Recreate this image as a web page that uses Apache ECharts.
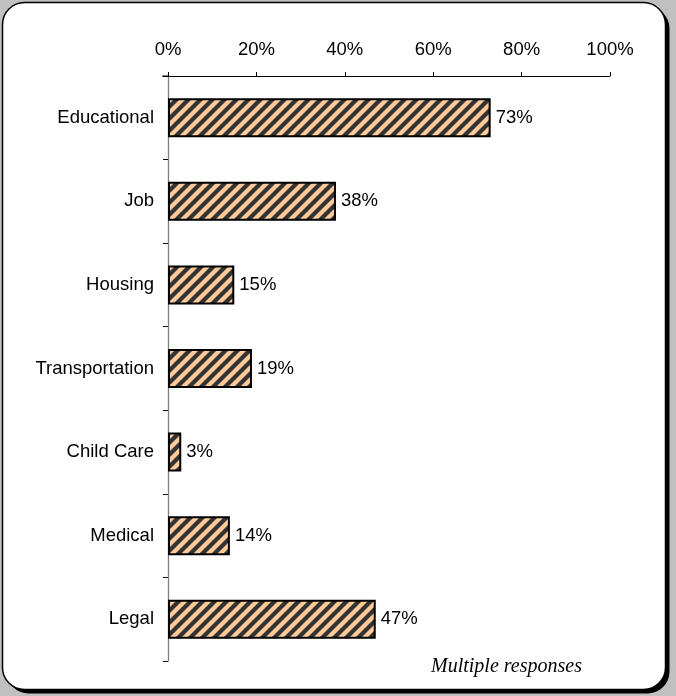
<!DOCTYPE html>
<html>
<head>
<meta charset="utf-8">
<script src="https://cdn.jsdelivr.net/npm/echarts@6/dist/echarts.min.js"></script>
<style>
html,body{margin:0;padding:0;background:#c0c0c0;}
#chart{width:676px;height:696px;}
</style>
</head>
<body>
<div id="chart"></div>
<script>
const categories = ['Educational', 'Job', 'Housing', 'Transportation', 'Child Care', 'Medical', 'Legal'];
const values = [73, 38, 15, 19, 3, 14, 47];
const xTicks = [0, 20, 40, 60, 80, 100];

function makePattern() {
  const c = document.createElement('canvas');
  const s = 12;
  c.width = s; c.height = s;
  const ctx = c.getContext('2d');
  ctx.fillStyle = '#FFCC99';
  ctx.fillRect(0, 0, s, s);
  ctx.strokeStyle = '#333333';
  ctx.lineWidth = 4.2;
  for (const k of [-s, 0, s]) {
    ctx.beginPath();
    ctx.moveTo(k - s, 2 * s);
    ctx.lineTo(k + 2 * s, -s);
    ctx.stroke();
  }
  return c;
}

const FONT = '"Liberation Sans", Arial, sans-serif';
const chart = echarts.init(document.getElementById('chart'), null, {renderer: 'canvas'});
chart.setOption({
  backgroundColor: '#c0c0c0',
  animation: false,
  graphic: [
    {type: 'rect', z: -10, shape: {x: 6.5, y: 6.5, width: 663, height: 687, r: 22}, style: {fill: '#000'}},
    {type: 'rect', z: -9, shape: {x: 2.5, y: 2.5, width: 663, height: 687, r: 22}, style: {fill: '#fff', stroke: '#000', lineWidth: 1.5}},
    {type: 'line', z: 10, shape: {x1: 162, y1: 76, x2: 168, y2: 76}, style: {stroke: '#000', lineWidth: 1}},
    {type: 'text', z: 10, left: 431, top: 657, style: {text: 'Multiple responses', font: 'italic 20px "Liberation Serif", "Times New Roman", serif', fill: '#000'}}
  ],
  grid: {left: 168, right: 66, top: 76, bottom: 35, containLabel: false},
  xAxis: {
    type: 'value', position: 'top', min: xTicks[0], max: xTicks[xTicks.length - 1], interval: 20,
    axisLine: {show: true, lineStyle: {color: '#000', width: 1}},
    axisTick: {show: true, length: 4, lineStyle: {color: '#000'}},
    axisLabel: {formatter: '{value}%', fontSize: 18.5, color: '#000', margin: 17, fontFamily: FONT},
    splitLine: {show: false}
  },
  yAxis: {
    type: 'category', inverse: true, data: categories,
    axisLine: {show: true, lineStyle: {color: '#808080', width: 1.3}},
    axisTick: {show: true, length: 5, lineStyle: {color: '#000'}},
    axisLabel: {fontSize: 18.5, color: '#000', margin: 14, fontFamily: FONT}
  },
  series: [{
    type: 'bar',
    data: values,
    barWidth: 39,
    itemStyle: {color: {image: makePattern(), repeat: 'repeat'}, borderColor: '#000', borderWidth: 2},
    label: {show: true, position: 'right', distance: 5, formatter: '{c}%', fontSize: 18.5, color: '#000', fontFamily: FONT}
  }]
});
</script>
</body>
</html>
